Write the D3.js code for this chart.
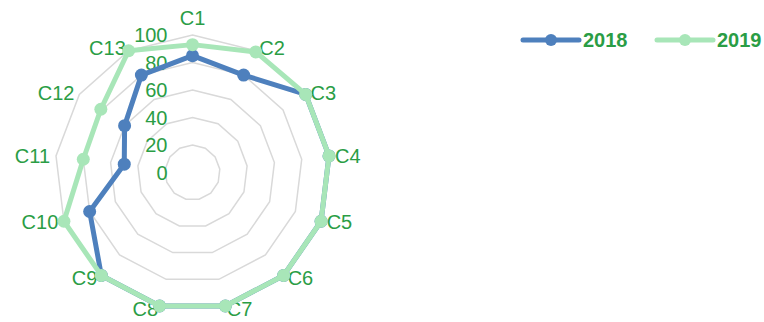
<!DOCTYPE html>
<html><head><meta charset="utf-8">
<script src="https://cdn.jsdelivr.net/npm/d3@7"></script>
<style>body{margin:0;background:#fff}svg{display:block}text{font-family:"Liberation Sans",Arial,sans-serif}</style>
</head><body><svg id="c" width="764" height="322"></svg>
<script>
const categories = ["C1","C2","C3","C4","C5","C6","C7","C8","C9","C10","C11","C12","C13"];
const seriesNames = ["2018","2019"];
const values2018 = [85,80,100,100,100,100,100,100,100,80,50,60,80];
const values2019 = [93,99,100,100,100,100,100,100,100,100,80,81,100];
const ticks = [0,20,40,60,80,100];
const colors = ["#4e80bd","#a8e6b8"];
const textColor = "#2a9d45";

const svg = d3.select("#c");
const cx = 192.5, cy = 172.5, R = 137.5;
const n = categories.length;
const ang = d3.scaleLinear().domain([0,n]).range([0,2*Math.PI]);
const r = d3.scaleLinear().domain([0,100]).range([0,R]);
const pt = (i,v)=>[cx + r(v)*Math.sin(ang(i)), cy - r(v)*Math.cos(ang(i))];

const g = svg.append("g");
// grid rings
ticks.filter(t=>t>0).forEach(t=>{
  g.append("polygon")
   .attr("points", categories.map((c,i)=>pt(i,t).join(",")).join(" "))
   .attr("fill","none").attr("stroke","#d9d9d9").attr("stroke-width",1.5);
});
// tick labels
g.selectAll("text.tick").data(ticks).enter().append("text")
 .attr("x", cx-25).attr("y", d=>cy - r(d))
 .attr("text-anchor","end").attr("dominant-baseline","central")
 .attr("font-size",20).attr("fill",textColor).text(d=>d);
// category labels
categories.forEach((c,i)=>{
  const a = ang(i), s = Math.sin(a), co = Math.cos(a);
  let x = cx + (R+6)*s, y = cy - (R+3)*co;
  let anchor = "middle";
  if (s > 0.05) anchor = "start"; else if (s < -0.05) anchor = "end";
  if (Math.abs(s) <= 0.05) y -= 14*Math.sign(co);
  g.append("text").attr("x",x).attr("y",y).attr("text-anchor",anchor)
   .attr("dominant-baseline","central").attr("font-size",20).attr("fill",textColor).text(c);
});
// series
const line = d3.line().curve(d3.curveLinearClosed);
[values2018, values2019].forEach((vals,k)=>{
  const pts = vals.map((v,i)=>pt(i,v));
  g.append("path").attr("d", line(pts)).attr("fill","none")
   .attr("stroke",colors[k]).attr("stroke-width",5).attr("stroke-linejoin","round");
  g.selectAll(null).data(pts).enter().append("circle")
   .attr("cx",d=>d[0]).attr("cy",d=>d[1]).attr("r",6.5).attr("fill",colors[k]);
});
// legend
const lx = [523, 657];
seriesNames.forEach((s,k)=>{
  const lg = svg.append("g");
  lg.append("line").attr("x1",lx[k]).attr("x2",lx[k]+56).attr("y1",40).attr("y2",40)
    .attr("stroke",colors[k]).attr("stroke-width",5).attr("stroke-linecap","round");
  lg.append("circle").attr("cx",lx[k]+28).attr("cy",40).attr("r",6).attr("fill",colors[k]);
  lg.append("text").attr("x",lx[k]+60).attr("y",40).attr("dominant-baseline","central")
    .attr("font-size",20).attr("font-weight","bold").attr("fill",textColor).text(s);
});
</script></body></html>
